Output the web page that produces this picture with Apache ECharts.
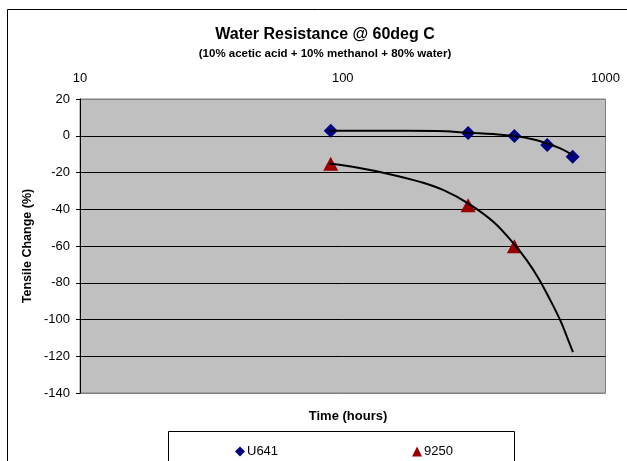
<!DOCTYPE html>
<html>
<head>
<meta charset="utf-8">
<script src="https://cdn.jsdelivr.net/npm/echarts@6/dist/echarts.min.js"></script>
<style>
html,body{margin:0;padding:0;background:#fff;}
#c{width:627px;height:461px;}
</style>
</head>
<body>
<div id="c"></div>
<script>
// ---- data ----
const titleText = "Water Resistance @ 60deg C";
const subtitleText = "(10% acetic acid + 10% methanol + 80% water)";
const xAxisTitle = "Time (hours)";
const yAxisTitle = "Tensile Change (%)";
const seriesNames = ["U641", "9250"];

const u641Hours = [90, 300, 450, 600, 750];
const u641Change = [2.7, 1.5, -0.2, -5.1, -11.4];

const s9250Hours = [90, 300, 450];
const s9250Change = [-15.3, -37.8, -60.1];

// trendline points
const u641TrendHours = [89, 138, 228, 301, 375, 453, 533, 599, 673, 750];
const u641TrendChange = [2.7, 2.7, 2.6, 1.6, 0.9, -0.2, -2.0, -4.2, -6.9, -10.5];

const s9250TrendHours = [89, 113, 151, 197, 242, 301, 375, 447, 502, 557, 617, 673, 714, 752];
const s9250TrendChange = [-15.1, -17.3, -20.9, -25.1, -29.6, -36.9, -46.9, -58.7, -67.8, -77.8, -89.6, -100.5, -109.6, -117.8];

const xTickMin = 10, xTickMax = 1000;
const yMin = -140, yMax = 20, yStep = 20;

// ---- build ----
const font = "'Liberation Sans', Arial, sans-serif";
const pairs = (xs, ys) => xs.map((x, i) => [x, ys[i]]);

const nTicks = (yMax - yMin) / yStep + 1;
const splitColors = [];
for (let i = 0; i < nTicks; i++) splitColors.push(i === 0 || i === nTicks - 1 ? '#808080' : '#000000');

const chart = echarts.init(document.getElementById('c'), null, {renderer: 'canvas'});
chart.setOption({
  animation: false,
  backgroundColor: '#ffffff',
  textStyle: {fontFamily: font},
  title: [
    {text: titleText, left: 320, top: 22, textAlign: 'center',
     textStyle: {fontFamily: font, fontSize: 16, fontWeight: 'bold', color: '#000'}},
    {text: subtitleText, left: 320, top: 43, textAlign: 'center',
     textStyle: {fontFamily: font, fontSize: 11.5, fontWeight: 'bold', color: '#000'}},
    {text: xAxisTitle, left: 343, top: 405, textAlign: 'center',
     textStyle: {fontFamily: font, fontSize: 13, fontWeight: 'bold', color: '#000'}}
  ],
  graphic: [
    {type: 'rect', silent: true, z: -10,
     shape: {x: 7.5, y: 9.5, width: 700, height: 600},
     style: {fill: 'none', stroke: '#000', lineWidth: 1}},
    {type: 'rect', silent: true, z: -10,
     shape: {x: 168.5, y: 431.5, width: 346, height: 60},
     style: {fill: 'none', stroke: '#000', lineWidth: 1}},
    {type: 'text', silent: true, x: 28, y: 246, rotation: Math.PI / 2,
     style: {text: yAxisTitle, font: 'bold 12.5px ' + font, fill: '#000',
             textAlign: 'center', textVerticalAlign: 'middle'}}
  ],
  legend: {
    data: [
      {name: seriesNames[0], icon: 'diamond'},
      {name: seriesNames[1], icon: 'triangle'}
    ],
    left: 230, top: 440,
    itemWidth: 10, itemHeight: 10, itemGap: 134,
    textStyle: {fontFamily: font, fontSize: 13, color: '#000', padding: [0, 0, 0, -3]}
  },
  grid: {
    left: 80, right: 21.5, top: 99, bottom: 68,
    show: true, backgroundColor: '#C0C0C0', borderColor: '#808080', borderWidth: 1
  },
  xAxis: {
    type: 'log', logBase: 10, min: xTickMin, max: xTickMax, position: 'top',
    axisLine: {show: false}, axisTick: {show: false}, splitLine: {show: false},
    axisLabel: {fontFamily: font, fontSize: 13, color: '#000', margin: 14,
                formatter: (v) => String(Math.round(v))}
  },
  yAxis: {
    type: 'value', min: yMin, max: yMax, interval: yStep,
    axisLine: {show: true, onZero: false, lineStyle: {color: '#000', width: 1}},
    axisTick: {show: true, length: 4, lineStyle: {color: '#000'}},
    axisLabel: {fontFamily: font, fontSize: 13, color: '#000', margin: 10},
    splitLine: {show: true, lineStyle: {color: splitColors, width: 1}}
  },
  series: [
    {name: seriesNames[0], type: 'scatter', z: 2,
     symbol: 'diamond', symbolSize: [14, 14],
     itemStyle: {color: '#000080', opacity: 1}, data: pairs(u641Hours, u641Change)},
    {name: seriesNames[1], type: 'scatter', z: 2,
     symbol: 'triangle', symbolSize: [15, 14],
     itemStyle: {color: '#990000', opacity: 1}, data: pairs(s9250Hours, s9250Change)},
    {name: 'U641 trend', type: 'line', z: 3, smooth: 0.4,
     showSymbol: false, symbol: 'none', silent: true,
     lineStyle: {color: '#000', width: 2}, data: pairs(u641TrendHours, u641TrendChange)},
    {name: '9250 trend', type: 'line', z: 3, smooth: 0.4,
     showSymbol: false, symbol: 'none', silent: true,
     lineStyle: {color: '#000', width: 2}, data: pairs(s9250TrendHours, s9250TrendChange)}
  ]
});
</script>
</body>
</html>
